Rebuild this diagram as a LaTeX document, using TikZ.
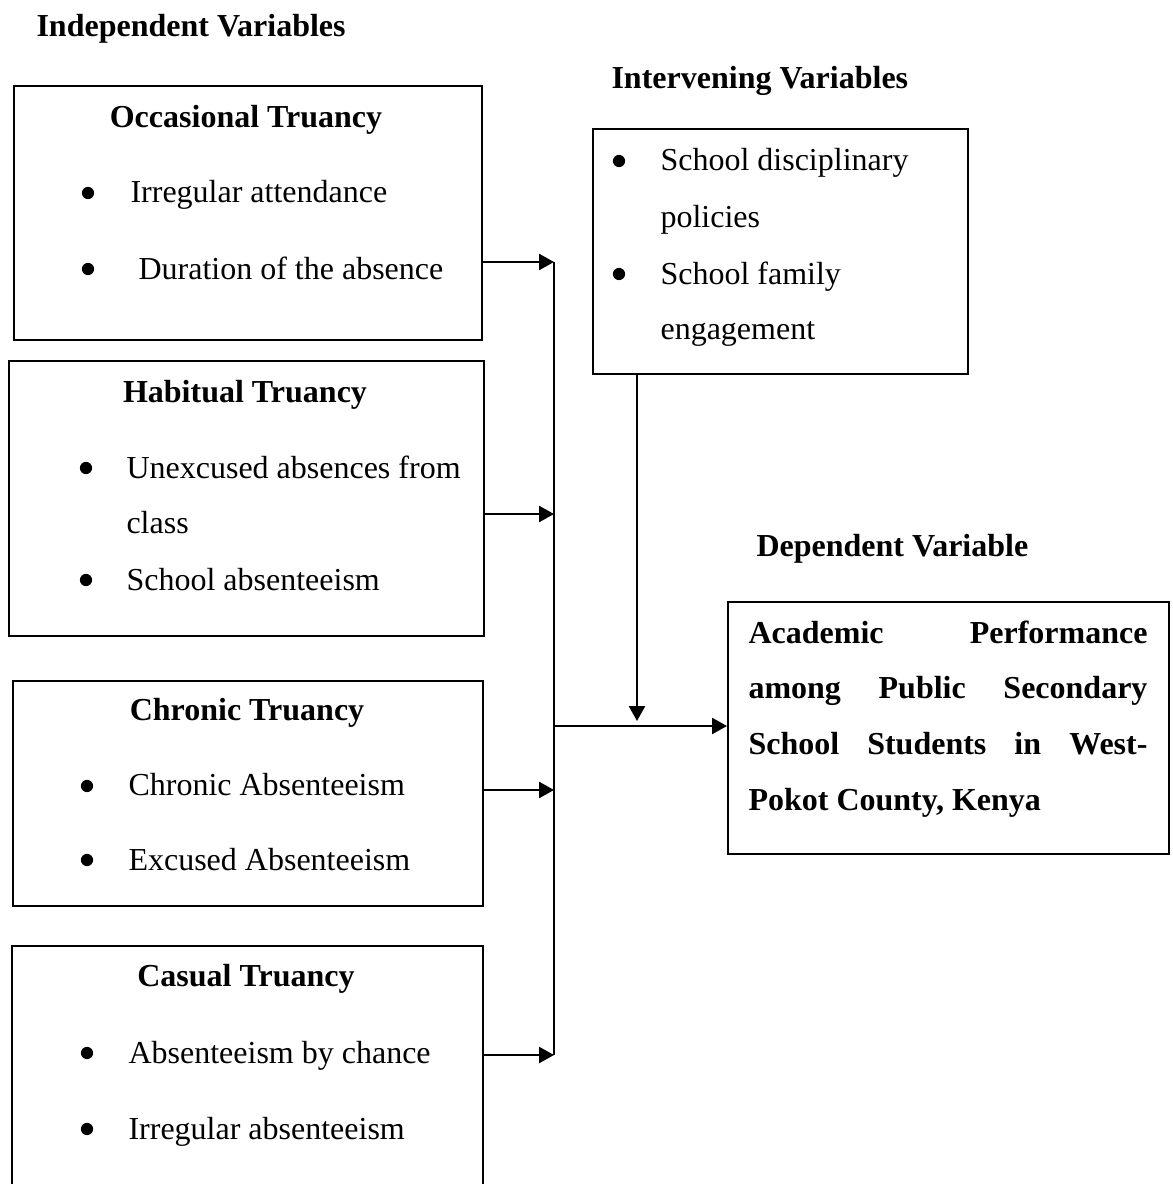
\documentclass[tikz,border=0pt]{standalone}
\usepackage{fontspec}
\setmainfont{Liberation Serif}
\usetikzlibrary{arrows.meta}
\usetikzlibrary{calc}

\begin{document}
\begin{tikzpicture}[x=0.375pt,y=-0.375pt,
    font=\fontsize{12pt}{14pt}\selectfont,
    box/.style={draw, line width=0.7pt, inner sep=0pt, anchor=north west},
    head/.style={font=\fontsize{12pt}{14pt}\selectfont\bfseries, inner sep=0pt, anchor=base, yshift=-0.75pt},
    item/.style={inner sep=0pt, anchor=base west, yshift=-0.75pt},
    bold/.style={item, font=\fontsize{12pt}{14pt}\selectfont\bfseries},
    dot/.style={circle, fill, inner sep=0pt, minimum size=4.6pt},
    link/.style={line width=0.85pt, -{Triangle[length=5.6pt,width=6pt]}}]

        \useasboundingbox (0,0) rectangle (1173,1184);

        % Headings
        \node[bold] (indep) at (36,35) {Independent Variables};
        \node[bold] (interv) at (611,87) {Intervening Variables};
        \node[bold] (depend) at (756,554) {Dependent Variable};

        % Independent boxes
        \node[box, minimum width=175.5pt, minimum height=95.3pt] (occ) at (13,85) {};
        \node[box, minimum width=178.1pt, minimum height=103.1pt] (hab) at (8,360) {};
        \node[box, minimum width=176.3pt, minimum height=84.4pt] (chr) at (12,680) {};
        \node[inner sep=0pt, anchor=north west, minimum width=176.3pt, minimum height=89.3pt] (cas) at (12,946) {};
        \draw[line width=0.7pt] (cas.south west) -- (cas.north west) -- (cas.north east) -- (cas.south east);

        % Occasional
        \node[head] (occT) at (246,125) {Occasional Truancy};
        \node[dot] (occ1d) at (88,193) {};
        \node[item] (occ1) at (130,200) {Irregular attendance};
        \node[dot] (occ2d) at (88,269) {};
        \node[item] (occ2) at (138,277) {Duration of the absence};

        % Habitual
        \node[head] (habT) at (245,400) {Habitual Truancy};
        \node[dot] (hab1d) at (86,468) {};
        \node[item] (hab1) at (126,476) {Unexcused absences from};
        \node[item] (hab1b) at (126,531) {class};
        \node[dot] (hab2d) at (86,580) {};
        \node[item] (hab2) at (126,588) {School absenteeism};

        % Chronic
        \node[head] (chrT) at (247,718) {Chronic Truancy};
        \node[dot] (chr1d) at (87,786) {};
        \node[item] (chr1) at (128,793) {Chronic Absenteeism};
        \node[dot] (chr2d) at (87,860) {};
        \node[item] (chr2) at (128,868) {Excused Absenteeism};

        % Casual
        \node[head] (casT) at (246,984) {Casual Truancy};
        \node[dot] (cas1d) at (87,1053) {};
        \node[item] (cas1) at (128,1061) {Absenteeism by chance};
        \node[dot] (cas2d) at (87,1129) {};
        \node[item] (cas2) at (128,1137) {Irregular absenteeism};

        % Intervening box
        \node[box, minimum width=140.6pt, minimum height=91.9pt] (inter) at (592,128) {};
        \node[dot] (int1d) at (619,161) {};
        \node[item] (int1) at (660,169) {School disciplinary};
        \node[item] (int1b) at (660,225) {policies};
        \node[dot] (int2d) at (619,274) {};
        \node[item] (int2) at (660,282) {School family};
        \node[item] (int2b) at (660,337) {engagement};

        % Dependent box
        \node[box, minimum width=165.4pt, minimum height=94.5pt] (dep) at (727,601) {};
        \node[bold] (dep1) at (748,641) {\makebox[149.6pt][s]{Academic Performance}};
        \node[bold] (dep2) at (748,696) {\makebox[149.6pt][s]{among Public Secondary}};
        \node[bold] (dep3) at (748,752) {\makebox[149.6pt][s]{School Students in West-}};
        \node[bold] (dep4) at (748,808) {Pokot County, Kenya};

        % Connectors
        \coordinate (busA) at (554,262);
        \coordinate (busB) at (554,514);
        \coordinate (busC) at (554,790);
        \coordinate (busD) at (554,1055);
        \coordinate (join) at (554,726);
        \coordinate (drop) at (637,721);

        \draw[line width=0.85pt] (busA) -- (busD);
        \foreach \b/\n in {occ/A,hab/B,chr/C,cas/D}
        {
          \draw[link] (\b.east |- bus\n) -- (bus\n);
        }
        \draw[link] (join) -- (dep.west |- join);
        \draw[link] (inter.south -| drop) -- (drop);

\end{tikzpicture}
\end{document}
